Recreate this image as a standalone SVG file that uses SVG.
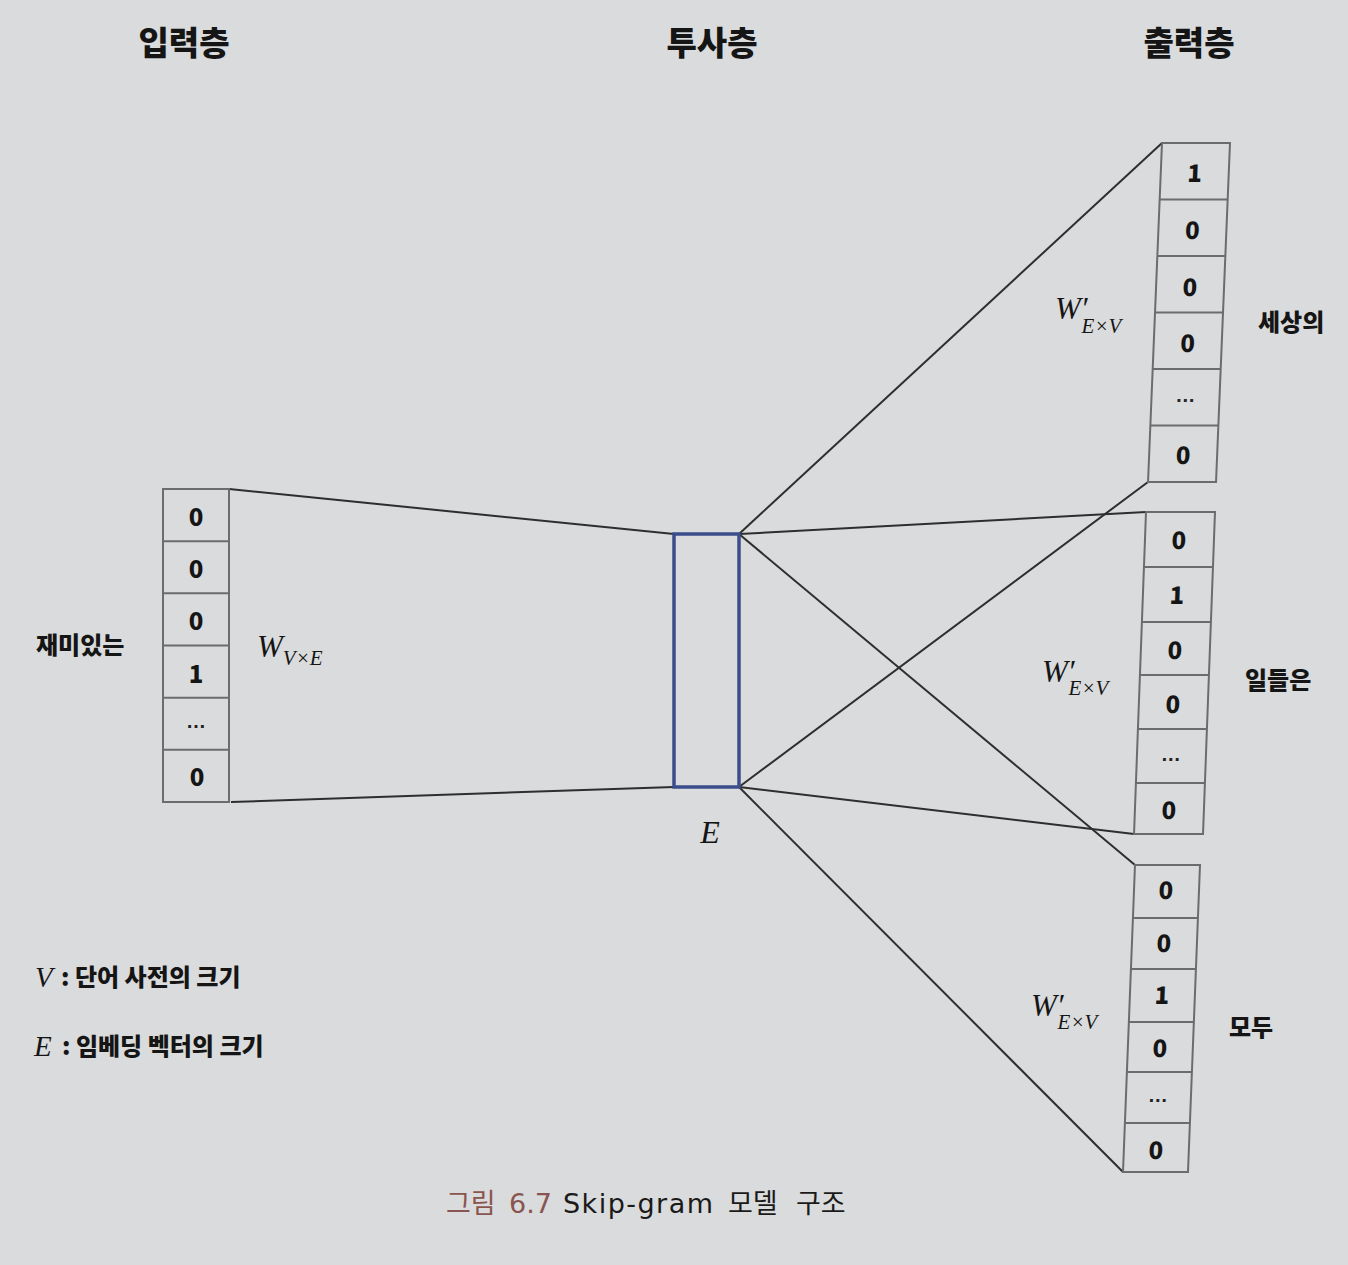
<svg xmlns="http://www.w3.org/2000/svg" width="1348" height="1265" viewBox="0 0 1348 1265">
<style>
.hdr{font-family:"Noto Sans CJK KR","Noto Sans",sans-serif;font-weight:900;font-size:33px;fill:#151515;text-anchor:middle}
.lbl{font-family:"Noto Sans CJK KR","Noto Sans",sans-serif;font-weight:900;font-size:24px;fill:#151515}
.cell{fill:none;stroke:#6c6c6c;stroke-width:2}
.num{font-family:"Noto Sans CJK KR","Noto Sans",sans-serif;font-weight:900;font-size:24px;fill:#151515;text-anchor:middle}
.dots{font-family:"Liberation Sans",sans-serif;font-weight:700;font-size:20px;fill:#222;text-anchor:middle}
.math{font-family:"Liberation Serif","DejaVu Serif",serif;font-style:italic;fill:#151515}
.conn{stroke:#2e2e2e;stroke-width:2;fill:none}
.cap{font-family:"Noto Sans CJK KR","Noto Sans",sans-serif;font-size:27px;fill:#1a1a1a}
.capl{font-family:"DejaVu Sans","Noto Sans",sans-serif;font-size:27px;fill:#1a1a1a}
</style>
<rect x="0" y="0" width="1348" height="1265" fill="#dadbdc"/>

<g id="headers">
<text class="hdr" x="184" y="55">입력층</text>
<text class="hdr" x="712" y="55">투사층</text>
<text class="hdr" x="1189" y="55">출력층</text>
</g>

<g id="connectors">
<line class="conn" x1="229" y1="489" x2="674" y2="534"/>
<line class="conn" x1="231" y1="802" x2="674" y2="787"/>
<line class="conn" x1="739" y1="534" x2="1162" y2="143"/>
<line class="conn" x1="739" y1="534" x2="1146" y2="512"/>
<line class="conn" x1="739" y1="534" x2="1135" y2="865"/>
<line class="conn" x1="739" y1="787" x2="1148" y2="482"/>
<line class="conn" x1="739" y1="787" x2="1134" y2="834"/>
<line class="conn" x1="739" y1="787" x2="1123" y2="1172"/>
</g>

<g id="input-vector" transform="translate(163,489)">
<rect class="cell" x="0" y="0" width="66" height="313"/>
<line class="cell" x1="0" y1="52.2" x2="66" y2="52.2"/>
<line class="cell" x1="0" y1="104.3" x2="66" y2="104.3"/>
<line class="cell" x1="0" y1="156.5" x2="66" y2="156.5"/>
<line class="cell" x1="0" y1="208.7" x2="66" y2="208.7"/>
<line class="cell" x1="0" y1="260.8" x2="66" y2="260.8"/>
<text class="num" x="33" y="37">0</text>
<text class="num" x="33" y="89">0</text>
<text class="num" x="33" y="141">0</text>
<text class="num" x="33" y="194">1</text>
<text class="dots" x="33" y="239">…</text>
<text class="num" x="34" y="297">0</text>
</g>
<g id="input-word"><text class="lbl" x="36" y="654">재미있는</text></g>
<g id="w-in"><text class="math" x="257" y="657" font-size="31">W<tspan dy="8" font-size="21">V×E</tspan></text></g>

<g id="projection">
<rect x="674" y="534" width="65" height="253" fill="none" stroke="#3b4d8c" stroke-width="3.5"/>
<text class="math" x="710" y="843" font-size="32" text-anchor="middle">E</text>
</g>

<g id="output-1" transform="translate(1162,143) skewX(-2.36)">
<rect class="cell" x="0" y="0" width="68" height="339"/>
<line class="cell" x1="0" y1="56.5" x2="68" y2="56.5"/>
<line class="cell" x1="0" y1="113" x2="68" y2="113"/>
<line class="cell" x1="0" y1="169.5" x2="68" y2="169.5"/>
<line class="cell" x1="0" y1="226" x2="68" y2="226"/>
<line class="cell" x1="0" y1="282.5" x2="68" y2="282.5"/>
<text class="num" x="34" y="39">1</text>
<text class="num" x="34" y="96">0</text>
<text class="num" x="34" y="153">0</text>
<text class="num" x="34" y="209">0</text>
<text class="dots" x="34" y="259">…</text>
<text class="num" x="34" y="321">0</text>
</g>
<g id="w-out-1"><text class="math" x="1055" y="319" font-size="31">W′<tspan dx="-6" dy="14" font-size="21">E×V</tspan></text></g>
<g id="output-word-1"><text class="lbl" x="1258" y="331">세상의</text></g>

<g id="output-2" transform="translate(1146,512) skewX(-2.13)">
<rect class="cell" x="0" y="0" width="69" height="322"/>
<line class="cell" x1="0" y1="55" x2="69" y2="55"/>
<line class="cell" x1="0" y1="110" x2="69" y2="110"/>
<line class="cell" x1="0" y1="163" x2="69" y2="163"/>
<line class="cell" x1="0" y1="217" x2="69" y2="217"/>
<line class="cell" x1="0" y1="271" x2="69" y2="271"/>
<text class="num" x="34" y="37">0</text>
<text class="num" x="34" y="92">1</text>
<text class="num" x="34" y="147">0</text>
<text class="num" x="34" y="201">0</text>
<text class="dots" x="34" y="249">…</text>
<text class="num" x="34" y="307">0</text>
</g>
<g id="w-out-2"><text class="math" x="1042" y="682" font-size="31">W′<tspan dx="-6" dy="13" font-size="21">E×V</tspan></text></g>
<g id="output-word-2"><text class="lbl" x="1245" y="689">일들은</text></g>

<g id="output-3" transform="translate(1135,865) skewX(-2.24)">
<rect class="cell" x="0" y="0" width="65" height="307"/>
<line class="cell" x1="0" y1="53" x2="65" y2="53"/>
<line class="cell" x1="0" y1="104" x2="65" y2="104"/>
<line class="cell" x1="0" y1="157" x2="65" y2="157"/>
<line class="cell" x1="0" y1="207" x2="65" y2="207"/>
<line class="cell" x1="0" y1="258" x2="65" y2="258"/>
<text class="num" x="32" y="34">0</text>
<text class="num" x="32" y="87">0</text>
<text class="num" x="32" y="139">1</text>
<text class="num" x="32" y="192">0</text>
<text class="dots" x="32" y="237">…</text>
<text class="num" x="32" y="294">0</text>
</g>
<g id="w-out-3"><text class="math" x="1031" y="1016" font-size="31">W′<tspan dx="-6" dy="13" font-size="21">E×V</tspan></text></g>
<g id="output-word-3"><text class="lbl" x="1229" y="1036">모두</text></g>

<g id="legend">
<text class="math" x="35" y="987" font-size="29">V</text>
<text class="lbl" x="61" y="986">: 단어 사전의 크기</text>
<text class="math" x="34" y="1056" font-size="29">E</text>
<text class="lbl" x="62" y="1055">: 임베딩 벡터의 크기</text>
</g>

<g id="caption">
<text class="cap" x="446" y="1213" style="fill:#8a5550">그림</text>
<text class="capl" x="509" y="1213" style="fill:#8a5550">6.7</text>
<text class="capl" x="563" y="1213" textLength="150" lengthAdjust="spacing">Skip-gram</text>
<text class="cap" x="728" y="1213">모델</text>
<text class="cap" x="796" y="1213">구조</text>
</g>
</svg>
